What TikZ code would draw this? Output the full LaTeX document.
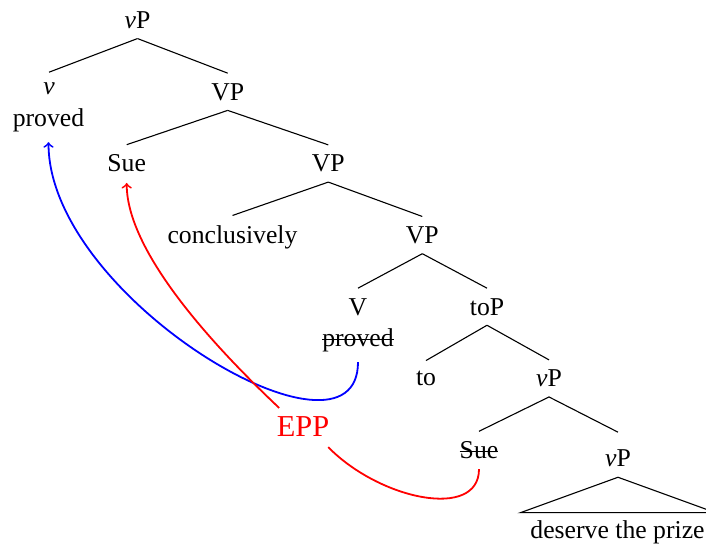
\documentclass[tikz,border=0pt]{standalone}
\usepackage{fontspec}
\setmainfont{Liberation Serif}
\begin{document}
\begin{tikzpicture}[x=0.5pt,y=-0.5pt,
  lab/.style={inner sep=0pt, outer sep=0pt, anchor=base, font=\fontsize{12.85}{15}\selectfont},
  edge/.style={line width=0.55pt},
  strike/.style={line width=0.6pt},
  mv/.style={line width=0.9pt, ->}]
\useasboundingbox (0,0) rectangle (706,547);
% nodes
\node[lab] (vPa) at (137.5,28.3) {\textit{v}P};
\node[lab] (v) at (49,94) {\textit{v}};
\node[lab] (proveda) at (48.5,126.7) {proved};
\node[lab] (VPa) at (227.7,100) {VP};
\node[lab] (Suea) at (126.7,171.7) {Sue};
\node[lab] (VPb) at (328.3,171.7) {VP};
\node[lab] (concl) at (232.5,243.3) {conclusively};
\node[lab] (VPc) at (422.3,243.3) {VP};
\node[lab] (V) at (358,315) {V};
\node[lab] (provedb) at (358,346.7) {proved};
\node[lab] (toP) at (487,315) {toP};
\node[lab] (to) at (426,385) {to};
\node[lab] (vPb) at (549,386.7) {\textit{v}P};
\node[lab] (Sueb) at (479,458.3) {Sue};
\node[lab] (vPc) at (618,466) {\textit{v}P};
\node[lab] (dtp) at (617.5,538.3) {deserve the prize};
\node[lab, text=red, font=\fontsize{15.2}{18}\selectfont] (EPP) at (303,436.7) {EPP};
% tree edges
\draw[edge] ([yshift=-5pt]vPa.south) -- ([yshift=5pt]v.north);
\draw[edge] ([yshift=-5pt]vPa.south) -- ([yshift=5pt]VPa.north);
\draw[edge] ([yshift=-5pt]VPa.south) -- ([yshift=5pt]Suea.north);
\draw[edge] ([yshift=-5pt]VPa.south) -- ([yshift=5pt]VPb.north);
\draw[edge] ([yshift=-5pt]VPb.south) -- ([yshift=5pt]concl.north);
\draw[edge] ([yshift=-5pt]VPb.south) -- ([yshift=5pt]VPc.north);
\draw[edge] ([yshift=-5pt]VPc.south) -- ([yshift=5pt]V.north);
\draw[edge] ([yshift=-5pt]VPc.south) -- ([yshift=5pt]toP.north);
\draw[edge] ([yshift=-5pt]toP.south) -- ([yshift=5pt]to.north);
\draw[edge] ([yshift=-5pt]toP.south) -- ([yshift=5pt]vPb.north);
\draw[edge] ([yshift=-5pt]vPb.south) -- ([yshift=5pt]Sueb.north);
\draw[edge] ([yshift=-5pt]vPb.south) -- ([yshift=8.5pt]vPc.north);
% roof
\draw[edge] ([yshift=-5.5pt]vPc.south) -- ([xshift=-5pt,yshift=3.9pt]dtp.north west)
  -- ([xshift=5.5pt,yshift=3.9pt]dtp.north east) -- cycle;
% strike-outs
\draw[strike] ([yshift=3.7pt]provedb.base west) -- ([yshift=3.7pt]provedb.base east);
\draw[strike] ([yshift=3.3pt]Sueb.base west) -- ([yshift=3.3pt]Sueb.base east);
% movement arrows
\draw[mv, blue] ([yshift=-5pt]provedb.south) .. controls +(0,118) and +(0,157) .. ([yshift=-5pt]proveda.south);
\draw[mv, red] ([xshift=1.2pt,yshift=4.4pt]EPP.north west) .. controls +(-40,-38) and +(0,78) .. ([yshift=-5.5pt]Suea.south);
\draw[line width=0.9pt, red] ([yshift=-5.3pt]Sueb.south) .. controls +(0,51) and +(52,53) .. ([xshift=-0.5pt,yshift=-5.2pt]EPP.south east);
\end{tikzpicture}
\end{document}
